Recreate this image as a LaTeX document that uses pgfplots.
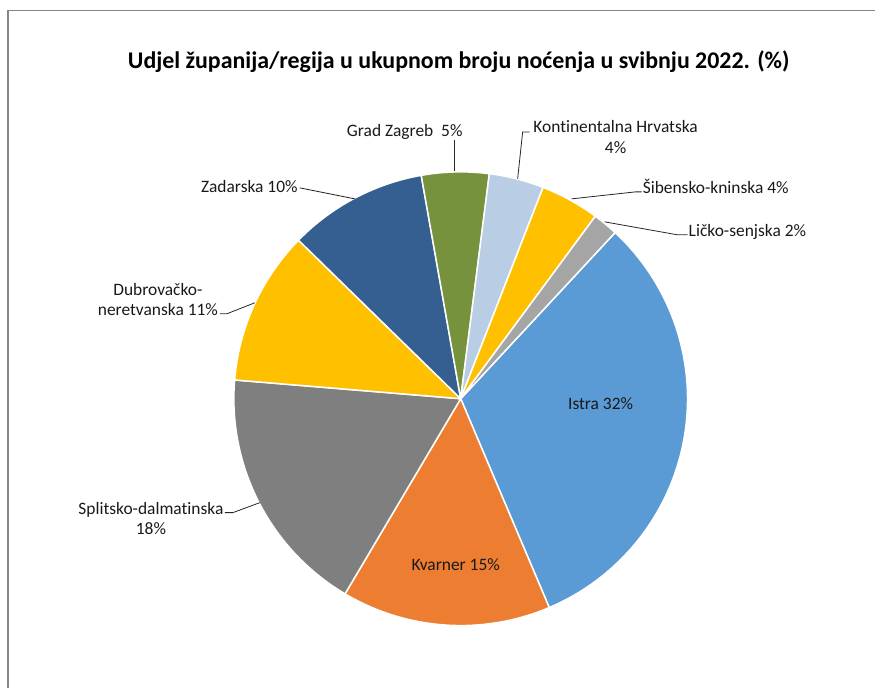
\documentclass[border=0pt]{standalone}
\usepackage{pgfplots}
\usepackage{pgfplotstable}
\pgfplotsset{compat=1.18}
\usepackage{fontspec}
\setmainfont{Carlito}[Ligatures=NoCommon]

\definecolor{cIstra}{RGB}{91,155,213}
\definecolor{cKvarner}{RGB}{237,125,49}
\definecolor{cSplit}{RGB}{127,127,127}
\definecolor{cDubr}{RGB}{255,192,0}
\definecolor{cZadar}{RGB}{53,94,145}
\definecolor{cZagreb}{RGB}{119,146,60}
\definecolor{cKont}{RGB}{185,205,229}
\definecolor{cSib}{RGB}{255,192,0}
\definecolor{cLika}{RGB}{165,165,165}
\definecolor{frame}{RGB}{134,134,134}

% shares in %, clockwise from Istra
\pgfplotstableread{
value color
31.7 cIstra
14.9 cKvarner
17.8 cSplit
11.0 cDubr
9.9  cZadar
4.8  cZagreb
3.9  cKont
4.2  cSib
1.8  cLika
}\piedata

\begin{document}
\begin{tikzpicture}
\begin{axis}[
	width=876bp, height=688bp,
	scale only axis,
	xmin=0, xmax=876, ymin=0, ymax=688,
	hide axis, clip=false,
]
\path (axis cs:0,0) (axis cs:876,688);
% frame
\draw[frame, line width=1.2bp] (axis cs:8,0) -- (axis cs:8,677.5) -- (axis cs:876,677.5);

% wedges
\def\startangle{47.1}
\pgfplotsforeachungrouped \i in {0,...,8}{%
	\pgfplotstablegetelem{\i}{value}\of\piedata \let\val\pgfplotsretval
	\pgfplotstablegetelem{\i}{color}\of\piedata \let\col\pgfplotsretval
	\pgfmathsetmacro\endangle{\startangle-3.6*\val}
	\edef\temp{\noexpand\filldraw[fill=\col, draw=white, line width=1.5bp, line join=round]
		(axis cs:461,289) -- ++(\startangle:227bp)
		arc[start angle=\startangle, end angle=\endangle, radius=227bp] -- cycle;}
	\temp
	\global\let\startangle\endangle
}

% title
\node[font=\fontsize{24}{28}\selectfont\bfseries] at (axis cs:459,626) {Udjel županija/regija u ukupnom broju noćenja u svibnju 2022. (\%)};

% leader lines
\begin{scope}[black!85, line width=0.8bp]
\draw (axis cs:225,175) -- (axis cs:233,175) -- (axis cs:260,185);
\draw (axis cs:220,374) -- (axis cs:227,374) -- (axis cs:255,385);
\draw (axis cs:300,500) -- (axis cs:355,489);
\draw (axis cs:455,548) -- (axis cs:455,517);
\draw (axis cs:530,556) -- (axis cs:523,556) -- (axis cs:518,509);
\draw (axis cs:642,496) -- (axis cs:636,496) -- (axis cs:572,489);
\draw (axis cs:688,453) -- (axis cs:678,453) -- (axis cs:605,466);
\end{scope}

% labels
\begin{scope}[every node/.style={font=\fontsize{17.5}{20.5}\selectfont, text=black!90, inner sep=0pt}]
\node at (axis cs:601,284) {Istra 32\%};
\node at (axis cs:456,123) {Kvarner 15\%};
\node[align=center] at (axis cs:151,169) {Splitsko-dalmatinska\\18\%};
\node[align=center] at (axis cs:158,388) {Dubrovačko-\\neretvanska 11\%};
\node[anchor=east] at (axis cs:298,501) {Zadarska 10\%};
\node at (axis cs:405,556) {Grad Zagreb\ \ 5\%};
\node[align=center] at (axis cs:616,551) {Kontinentalna Hrvatska\\4\%};
\node[anchor=west] at (axis cs:643,501) {Šibensko-kninska 4\%};
\node[anchor=west] at (axis cs:689,456) {Ličko-senjska 2\%};
\end{scope}
\end{axis}
\end{tikzpicture}
\end{document}
